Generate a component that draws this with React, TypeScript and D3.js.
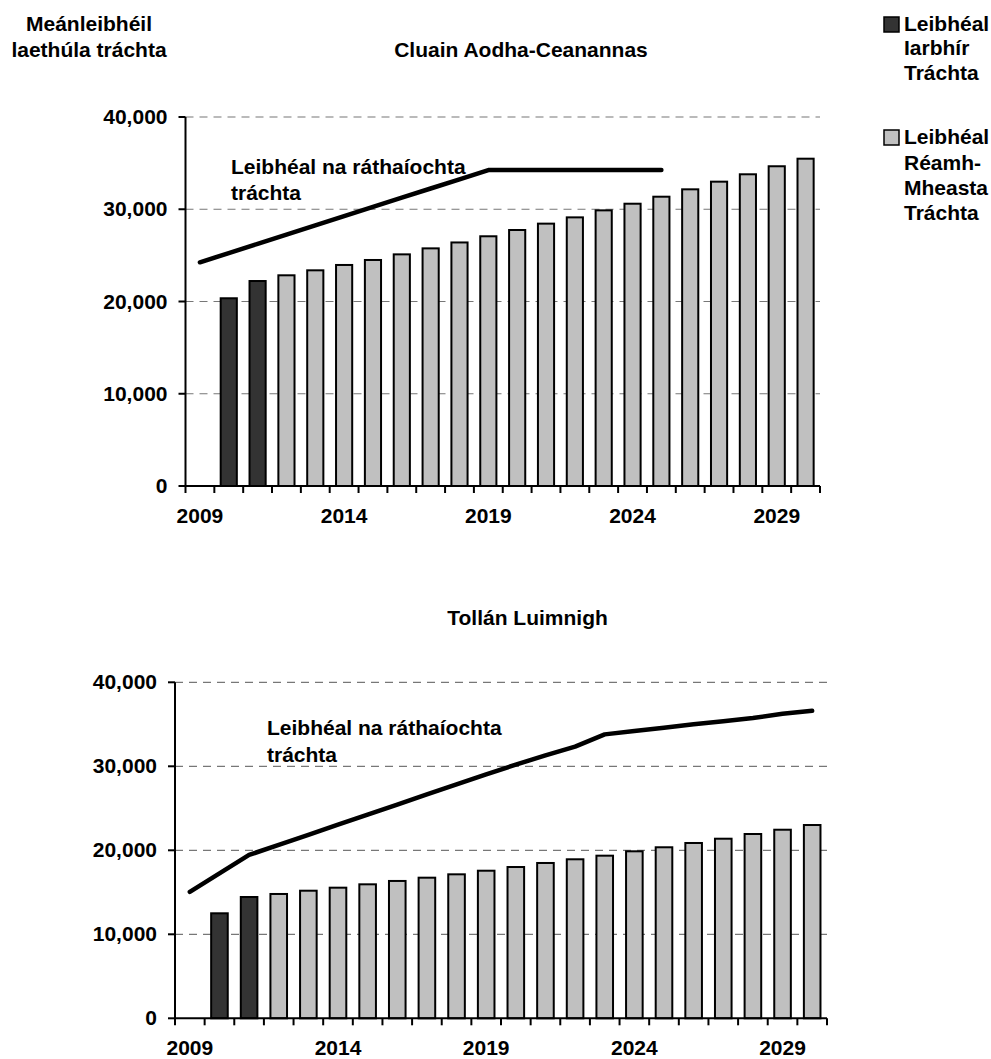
import React from "react";
import * as d3 from "d3";

const years = [2009, 2010, 2011, 2012, 2013, 2014, 2015, 2016, 2017, 2018, 2019, 2020, 2021, 2022, 2023, 2024, 2025, 2026, 2027, 2028, 2029, 2030];
const yearLabels = [2009, 2014, 2019, 2024, 2029];
const yTicks = [0, 10000, 20000, 30000, 40000];

// Cluain Aodha-Ceanannas
const topActual = [null, 20350, 22220, null, null, null, null, null, null, null, null, null, null, null, null, null, null, null, null, null, null, null];
const topForecast = [null, null, null, 22840, 23380, 23960, 24500, 25110, 25760, 26400, 27070, 27750, 28440, 29120, 29880, 30600, 31360, 32160, 32990, 33790, 34660, 35480];
const topCapacity = [24250, 25250, 26250, 27250, 28250, 29250, 30250, 31250, 32250, 33250, 34250, 34250, 34250, 34250, 34250, 34250, 34250, null, null, null, null, null];

// Tollán Luimnigh
const botActual = [null, 12500, 14440, null, null, null, null, null, null, null, null, null, null, null, null, null, null, null, null, null, null, null];
const botForecast = [null, null, null, 14800, 15190, 15550, 15950, 16350, 16740, 17140, 17570, 18010, 18490, 18930, 19360, 19880, 20360, 20870, 21380, 21940, 22450, 23010];
const botCapacity = [15050, 17250, 19450, 20650, 21850, 23050, 24250, 25450, 26650, 27850, 29050, 30200, 31300, 32350, 33800, 34200, 34600, 35000, 35350, 35750, 36250, 36600];

const FONT = "'Liberation Sans', Arial, Helvetica, sans-serif";
const FS = 21;
const DARK = "#333333";
const LIGHT = "#c0c0c0";

type PanelProps = {
  x0: number; x1: number; yTop: number; yBottom: number;
  actual: (number | null)[]; forecast: (number | null)[]; capacity: (number | null)[];
  title: string; titleX: number; titleY: number;
  lblX: number; lblY: number; lblGap: number;
};

function Panel(p: PanelProps) {
  const x = d3.scaleBand<number>().domain(years).range([p.x0, p.x1]).paddingInner(0.44).paddingOuter(0.22);
  const xs = d3.scaleBand<number>().domain(years).range([p.x0, p.x1]).padding(0);
  const y = d3.scaleLinear().domain([0, 40000]).range([p.yBottom, p.yTop]);
  const center = (yr: number) => (xs(yr) as number) + xs.bandwidth() / 2;
  const line = d3.line<[number, number | null]>()
    .defined((d) => d[1] != null)
    .x((d) => center(d[0]))
    .y((d) => y(d[1] as number));
  const boundaries = years.map((yr) => xs(yr) as number).concat([p.x1]);

  const bars = (vals: (number | null)[], fill: string) =>
    years.map((yr, i) => {
      const v = vals[i];
      if (v == null) return null;
      return (
        <rect key={fill + yr} x={x(yr)} y={y(v)} width={x.bandwidth()} height={y(0) - y(v)}
          fill={fill} stroke="#000" strokeWidth={2} />
      );
    });

  return (
    <g>
      <text x={p.titleX} y={p.titleY} textAnchor="middle" fontSize={FS} fontWeight="bold" fontFamily={FONT}>{p.title}</text>
      {yTicks.filter((t) => t > 0).map((t) => (
        <line key={"g" + t} x1={p.x0} x2={p.x1} y1={y(t)} y2={y(t)} stroke="#777" strokeWidth={1.2} strokeDasharray="8,6" />
      ))}
      {bars(p.actual, DARK)}
      {bars(p.forecast, LIGHT)}
      <path d={line(years.map((yr, i) => [yr, p.capacity[i]] as [number, number | null])) || ""}
        fill="none" stroke="#000" strokeWidth={4.5} strokeLinecap="round" strokeLinejoin="round" />
      <text fontSize={FS} fontWeight="bold" fontFamily={FONT}>
        <tspan x={p.lblX} y={p.lblY}>Leibhéal na ráthaíochta</tspan>
        <tspan x={p.lblX} y={p.lblY + p.lblGap}>tráchta</tspan>
      </text>
      {/* y axis */}
      <line x1={p.x0} x2={p.x0} y1={p.yTop} y2={p.yBottom} stroke="#000" strokeWidth={2} />
      {yTicks.map((t) => (
        <g key={"yt" + t}>
          <line x1={p.x0 - 7} x2={p.x0} y1={y(t)} y2={y(t)} stroke="#000" strokeWidth={2} />
          <text x={p.x0 - 18} y={y(t) + 7} textAnchor="end" fontSize={FS} fontWeight="bold" fontFamily={FONT}>{d3.format(",")(t)}</text>
        </g>
      ))}
      {/* x axis */}
      <line x1={p.x0} x2={p.x1} y1={p.yBottom} y2={p.yBottom} stroke="#000" strokeWidth={2} />
      {boundaries.map((b, i) => (
        <line key={"xt" + i} x1={b} x2={b} y1={p.yBottom} y2={p.yBottom + 7} stroke="#000" strokeWidth={2} />
      ))}
      {yearLabels.map((yr) => (
        <text key={"xl" + yr} x={center(yr)} y={p.yBottom + 37} textAnchor="middle" fontSize={FS} fontWeight="bold" fontFamily={FONT}>{yr}</text>
      ))}
    </g>
  );
}

export default function App() {
  return (
    <svg width={991} height={1059} style={{ position: "absolute", left: 0, top: 0, background: "#fff" }}>
      <rect x={0} y={0} width={991} height={1059} fill="#fff" />
      <text fontSize={FS} fontWeight="bold" fontFamily={FONT} textAnchor="middle">
        <tspan x={89} y={31}>Meánleibhéil</tspan>
        <tspan x={89} y={57}>laethúla tráchta</tspan>
      </text>
      {/* legend */}
      <rect x={884} y={17} width={15} height={15} fill={DARK} stroke="#000" strokeWidth={1.5} />
      <text fontSize={FS} fontWeight="bold" fontFamily={FONT}>
        <tspan x={904} y={31}>Leibhéal</tspan>
        <tspan x={904} y={55}>Iarbhír</tspan>
        <tspan x={904} y={80}>Tráchta</tspan>
      </text>
      <rect x={884} y={130} width={15} height={15} fill={LIGHT} stroke="#000" strokeWidth={1.5} />
      <text fontSize={FS} fontWeight="bold" fontFamily={FONT}>
        <tspan x={904} y={144}>Leibhéal</tspan>
        <tspan x={904} y={170}>Réamh-</tspan>
        <tspan x={904} y={195}>Mheasta</tspan>
        <tspan x={904} y={220}>Tráchta</tspan>
      </text>
      <Panel x0={185.5} x1={820} yTop={117} yBottom={486}
        actual={topActual} forecast={topForecast} capacity={topCapacity}
        title="Cluain Aodha-Ceanannas" titleX={521} titleY={57}
        lblX={231} lblY={174} lblGap={26} />
      <Panel x0={175} x1={827} yTop={682.3} yBottom={1018.3}
        actual={botActual} forecast={botForecast} capacity={botCapacity}
        title="Tollán Luimnigh" titleX={527.5} titleY={625}
        lblX={267} lblY={735} lblGap={27} />
    </svg>
  );
}
